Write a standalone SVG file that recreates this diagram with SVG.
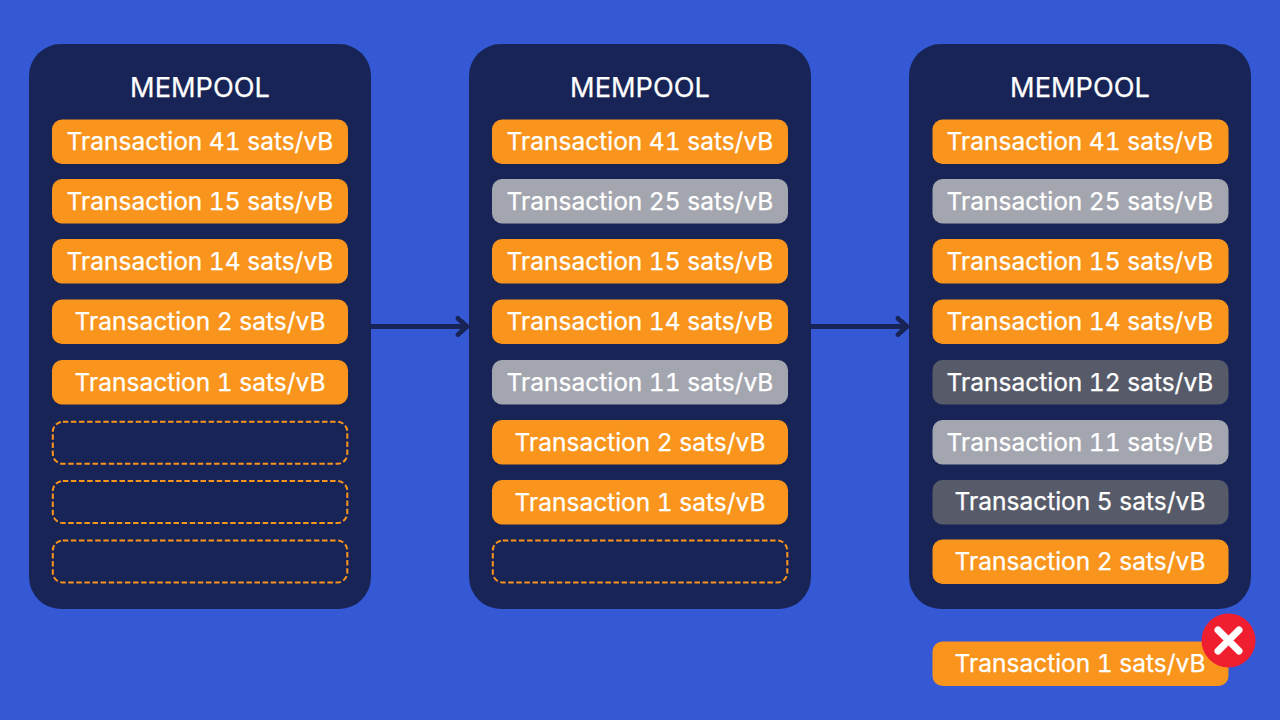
<svg xmlns="http://www.w3.org/2000/svg" width="1280" height="720" viewBox="0 0 1280 720">
<style>
.panel{fill:#182456}
.title{font-family:Inter,"Liberation Sans",sans-serif;font-size:27.200px;fill:#fff;text-anchor:middle;stroke:#fff;stroke-width:.25px}
.t{font-family:Inter,"Liberation Sans",sans-serif;font-size:24.500px;fill:#fff;text-anchor:middle;font-feature-settings:"tnum";stroke:#fff;stroke-width:.25px}
.o{fill:#f9951c}.g{fill:#a4a6af}.d{fill:#575b69}
.e{fill:none;stroke:#f9951c;stroke-width:2;stroke-dasharray:5.5 2.6}
.c{fill:none;stroke:#182456;stroke-width:5;stroke-linecap:round;stroke-linejoin:round}
</style>
<defs>
<rect id="p" width="296" height="44.500" rx="10"/>
<rect id="b" width="294.500" height="42" rx="10"/>
</defs>
<rect width="1280" height="720" fill="#3558d5"/>
<g id="connectors">
<path class="c" d="M371 326.500H467M458 318.500L467 326.500L458 334.500"/>
<path class="c" d="M811 326.500H907M898 318.500L907 326.500L898 334.500"/>
</g>
<g id="mempool-1">
<rect class="panel" x="29" y="44" width="342" height="565" rx="32"/>
<text class="title" x="200" y="97">MEMPOOL</text>
<g id="m1-tx41"><use href="#p" class="o" x="52" y="119.500"/><text class="t" x="200" y="150">Transaction 41 sats/vB</text></g>
<g id="m1-tx15"><use href="#p" class="o" x="52" y="179"/><text class="t" x="200" y="210">Transaction 15 sats/vB</text></g>
<g id="m1-tx14"><use href="#p" class="o" x="52" y="239"/><text class="t" x="200" y="270">Transaction 14 sats/vB</text></g>
<g id="m1-tx2"><use href="#p" class="o" x="52" y="299.500"/><text class="t" x="200" y="330">Transaction 2 sats/vB</text></g>
<g id="m1-tx1"><use href="#p" class="o" x="52" y="360"/><text class="t" x="200" y="391">Transaction 1 sats/vB</text></g>
<g id="m1-empty1"><use href="#b" class="e" x="52.800" y="421.800"/></g>
<g id="m1-empty2"><use href="#b" class="e" x="52.800" y="481"/></g>
<g id="m1-empty3"><use href="#b" class="e" x="52.800" y="540.500"/></g>
</g>
<g id="mempool-2">
<rect class="panel" x="469" y="44" width="342" height="565" rx="32"/>
<text class="title" x="640" y="97">MEMPOOL</text>
<g id="m2-tx41"><use href="#p" class="o" x="492" y="119.500"/><text class="t" x="640" y="150">Transaction 41 sats/vB</text></g>
<g id="m2-tx25"><use href="#p" class="g" x="492" y="179"/><text class="t" x="640" y="210">Transaction 25 sats/vB</text></g>
<g id="m2-tx15"><use href="#p" class="o" x="492" y="239"/><text class="t" x="640" y="270">Transaction 15 sats/vB</text></g>
<g id="m2-tx14"><use href="#p" class="o" x="492" y="299.500"/><text class="t" x="640" y="330">Transaction 14 sats/vB</text></g>
<g id="m2-tx11"><use href="#p" class="g" x="492" y="360"/><text class="t" x="640" y="391">Transaction 11 sats/vB</text></g>
<g id="m2-tx2"><use href="#p" class="o" x="492" y="420"/><text class="t" x="640" y="451">Transaction 2 sats/vB</text></g>
<g id="m2-tx1"><use href="#p" class="o" x="492" y="480"/><text class="t" x="640" y="511">Transaction 1 sats/vB</text></g>
<g id="m2-empty1"><use href="#b" class="e" x="492.800" y="540.500"/></g>
</g>
<g id="mempool-3">
<rect class="panel" x="909" y="44" width="342" height="565" rx="32"/>
<text class="title" x="1080" y="97">MEMPOOL</text>
<g id="m3-tx41"><use href="#p" class="o" x="932.500" y="119.500"/><text class="t" x="1080" y="150">Transaction 41 sats/vB</text></g>
<g id="m3-tx25"><use href="#p" class="g" x="932.500" y="179"/><text class="t" x="1080" y="210">Transaction 25 sats/vB</text></g>
<g id="m3-tx15"><use href="#p" class="o" x="932.500" y="239"/><text class="t" x="1080" y="270">Transaction 15 sats/vB</text></g>
<g id="m3-tx14"><use href="#p" class="o" x="932.500" y="299.500"/><text class="t" x="1080" y="330">Transaction 14 sats/vB</text></g>
<g id="m3-tx12"><use href="#p" class="d" x="932.500" y="360"/><text class="t" x="1080" y="391">Transaction 12 sats/vB</text></g>
<g id="m3-tx11"><use href="#p" class="g" x="932.500" y="420"/><text class="t" x="1080" y="451">Transaction 11 sats/vB</text></g>
<g id="m3-tx5"><use href="#p" class="d" x="932.500" y="480"/><text class="t" x="1080" y="510">Transaction 5 sats/vB</text></g>
<g id="m3-tx2"><use href="#p" class="o" x="932.500" y="539.500"/><text class="t" x="1080" y="570">Transaction 2 sats/vB</text></g>
</g>
<g id="evicted-tx1"><use href="#p" class="o" x="932.500" y="641.500"/><text class="t" x="1080" y="672">Transaction 1 sats/vB</text></g>
<g id="reject">
<circle cx="1228.500" cy="640.500" r="27" fill="#f01f30"/>
<path d="M1218 630L1239 651M1239 630L1218 651" fill="none" stroke="#fff" stroke-width="7" stroke-linecap="round"/>
</g>
</svg>
